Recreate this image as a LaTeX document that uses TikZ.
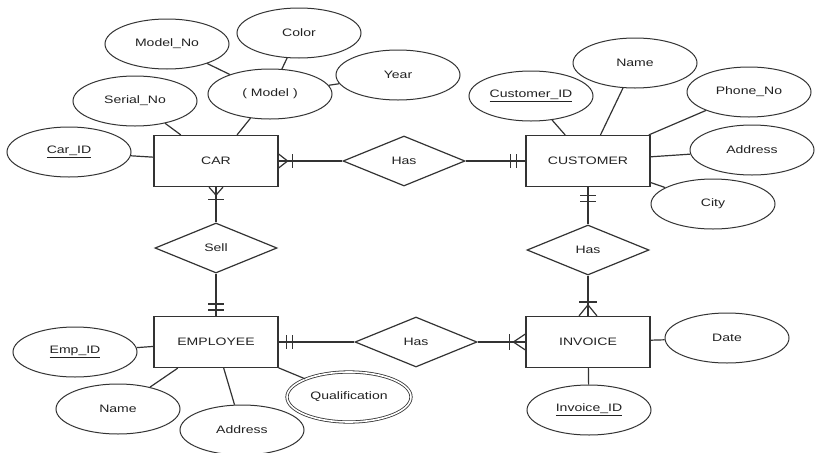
\documentclass[tikz,border=0pt]{standalone}
\usepackage{fontspec}
\setmainfont{Liberation Sans}[FakeStretch=1.3]
\usetikzlibrary{shapes.geometric,calc}
\definecolor{ln}{HTML}{333333}
\definecolor{tx}{HTML}{222222}
\begin{document}
\begin{tikzpicture}[x=1pt,y=-1pt,
  every node/.style={font=\fontsize{10.8}{12}\selectfont, text=tx},
  entity/.style={draw=ln, line width=1.2pt, minimum width=124pt, minimum height=51pt, inner sep=0pt},
  attr/.style={draw=ln, line width=1pt, ellipse, minimum width=124pt, minimum height=50pt, inner sep=0pt},
  mattr/.style={attr, double=white, double distance=1.6pt, line width=0.8pt},
  rel/.style={draw=ln, line width=1.2pt, diamond, minimum width=122pt, minimum height=50pt, inner sep=0pt},
  conn/.style={draw=ln, line width=1.2pt},
  cmark/.style={draw=ln, line width=1.2pt}
]
\useasboundingbox (0,0) rectangle (815,453);
\fill[white] (0,0) rectangle (815,453);

% entities
\node[entity] (car) at (216,161) {CAR};
\node[entity] (cust) at (588,161) {CUSTOMER};
\node[entity] (emp) at (216,342) {EMPLOYEE};
\node[entity] (inv) at (588,342) {INVOICE};

% relationships
\node[rel] (has1) at (404,161) {Has};
\node[rel] (sell) at (216,248) {Sell};
\node[rel] (has3) at (588,250) {Has};
\node[rel] (has2) at (416,342) {Has};

% attributes
\node[attr] (carid) at (69,152) {\underline{Car\_ID}};
\node[attr] (serial) at (135,101) {Serial\_No};
\node[attr] (modelno) at (167,44) {Model\_No};
\node[attr] (color) at (299,33) {Color};
\node[attr] (model) at (270,94) {( Model )};
\node[attr] (year) at (398,75) {Year};
\node[attr] (custid) at (531,96) {\underline{Customer\_ID}};
\node[attr] (cname) at (635,63) {Name};
\node[attr] (phone) at (749,92) {Phone\_No};
\node[attr] (caddr) at (752,150) {Address};
\node[attr] (city) at (713,204) {City};
\node[attr] (empid) at (75,352) {\underline{Emp\_ID}};
\node[attr] (ename) at (118,409) {Name};
\node[attr] (eaddr) at (242,430) {Address};
\node[mattr] (qual) at (349,397) {Qualification};
\node[attr] (date) at (727,338) {Date};
\node[attr] (invid) at (589,410) {\underline{Invoice\_ID}};

% attribute connectors
\draw[conn] (carid) -- (car);
\draw[conn] (serial) -- (car);
\draw[conn] (model) -- (car);
\draw[conn] (modelno) -- (model);
\draw[conn] (color) -- (model);
\draw[conn] (year) -- (model);
\draw[conn] (custid) -- (cust);
\draw[conn] (cname) -- (cust);
\draw[conn] (phone) -- (cust);
\draw[conn] (caddr) -- (cust);
\draw[conn] (city) -- (cust);
\draw[conn] (empid) -- (emp);
\draw[conn] (ename) -- (emp);
\draw[conn] (eaddr) -- (emp);
\draw[conn] (qual) -- (emp);
\draw[conn] (date) -- (inv);
\draw[conn] (invid) -- (inv);

% relationship connectors
\draw[conn] (car) -- (has1);
\draw[conn] (has1) -- (cust);
\draw[conn] (car) -- (sell);
\draw[conn] (sell) -- (emp);
\draw[conn] (cust) -- (has3);
\draw[conn] (has3) -- (inv);
\draw[conn] (emp) -- (has2);
\draw[conn] (has2) -- (inv);

% CAR east: one-or-many
\draw[cmark] ($(car.east)+(0,-7)$) -- ($(car.east)+(9,0)$) -- ($(car.east)+(0,7)$);
\draw[cmark] ($(car.east)+(14,-7)$) -- ($(car.east)+(14,7)$);
% CAR south: one-or-many
\draw[cmark] ($(car.south)+(-7,0)$) -- ($(car.south)+(0,8)$) -- ($(car.south)+(7,0)$);
\draw[cmark] ($(car.south)+(-8,12)$) -- ($(car.south)+(8,12)$);
% EMPLOYEE north: one and only one
\draw[cmark] ($(emp.north)+(-8,-6)$) -- ($(emp.north)+(8,-6)$);
\draw[cmark] ($(emp.north)+(-8,-12)$) -- ($(emp.north)+(8,-12)$);
% EMPLOYEE east: one and only one
\draw[cmark] ($(emp.east)+(8,-7)$) -- ($(emp.east)+(8,7)$);
\draw[cmark] ($(emp.east)+(14,-7)$) -- ($(emp.east)+(14,7)$);
% CUSTOMER west: one and only one
\draw[cmark] ($(cust.west)+(-9,-7)$) -- ($(cust.west)+(-9,7)$);
\draw[cmark] ($(cust.west)+(-15,-7)$) -- ($(cust.west)+(-15,7)$);
% CUSTOMER south: one and only one
\draw[cmark] ($(cust.south)+(-8,8)$) -- ($(cust.south)+(8,8)$);
\draw[cmark] ($(cust.south)+(-8,14)$) -- ($(cust.south)+(8,14)$);
% INVOICE west: one-or-many
\draw[cmark] ($(inv.west)+(0,-8)$) -- ($(inv.west)+(-12,0)$) -- ($(inv.west)+(0,8)$);
\draw[cmark] ($(inv.west)+(-16,-8)$) -- ($(inv.west)+(-16,8)$);
% INVOICE north: one-or-many
\draw[cmark] ($(inv.north)+(-9,0)$) -- ($(inv.north)+(0,-11)$) -- ($(inv.north)+(9,0)$);
\draw[cmark] ($(inv.north)+(-9,-14)$) -- ($(inv.north)+(9,-14)$);
\end{tikzpicture}
\end{document}
